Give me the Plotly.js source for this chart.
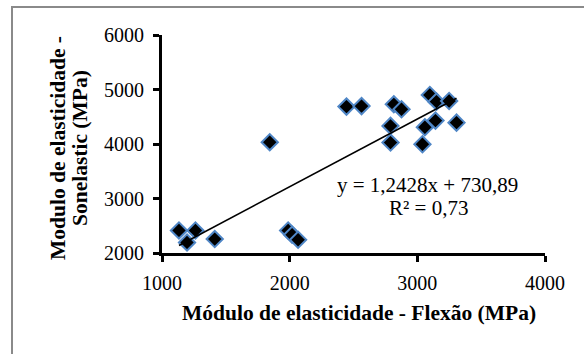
<!DOCTYPE html>
<html>
<head>
<meta charset="utf-8">
<script src="https://cdn.plot.ly/plotly-3.0.1.min.js"></script>
<style>
html,body{margin:0;padding:0;background:#fff;}
#frame{position:absolute;left:11px;top:6px;width:700px;height:500px;border-left:2px solid #8a8a8a;border-top:2px solid #8a8a8a;}
#chart{position:absolute;left:0;top:0;width:584px;height:354px;}
</style>
</head>
<body>
<div id="frame"></div>
<div id="chart"></div>
<script>
// Data
var flexao = [1133, 1196, 1262, 1413, 1844, 1988, 2019, 2066, 2445, 2563, 2790, 2790, 2816, 2876, 3040, 3059, 3098, 3142, 3150, 3249, 3307];
var sonelastic = [2414, 2194, 2414, 2256, 4033, 2414, 2335, 2243, 4686, 4695, 4332, 4026, 4728, 4637, 3996, 4307, 4899, 4429, 4777, 4789, 4392];
var slope = 1.2428;
var intercept = 730.89;
var eqText = "y = 1,2428x + 730,89";
var r2Text = "R² = 0,73";
var xTitle = "Módulo de elasticidade - Flexão (MPa)";
var yTitleLines = ["Modulo de elasticidade -", "Sonelastic (MPa)"];
var xTicks = [1000, 2000, 3000, 4000];
var yTicks = [2000, 3000, 4000, 5000, 6000];

var xmin = Math.min.apply(null, flexao);
var xmax = Math.max.apply(null, flexao);
var trendX = [xmin, xmax];
var trendY = trendX.map(function(v){ return slope * v + intercept; });

var font = "Liberation Serif";
var L = 162, R = 39, T = 35, B = 101, W = 584, H = 354;
var pw = W - L - R, ph = H - T - B;
function px(x){ return (x - L) / pw; }
function py(y){ return (H - B - y) / ph; }

var traces = [
  {
    x: flexao, y: sonelastic, type: "scatter", mode: "markers",
    marker: {symbol: "diamond", size: 12.5, color: "#000000", line: {color: "#4f86c6", width: 2}},
    hoverinfo: "x+y", showlegend: false
  },
  {
    x: trendX, y: trendY, type: "scatter", mode: "lines",
    line: {color: "#000000", width: 1.6}, hoverinfo: "skip", showlegend: false
  }
];

var layout = {
  width: W, height: H,
  margin: {l: L, r: R, t: T, b: B},
  paper_bgcolor: "rgba(0,0,0,0)",
  plot_bgcolor: "rgba(0,0,0,0)",
  font: {family: font, color: "#000", size: 20},
  xaxis: {
    range: [1000, 4000], tickvals: xTicks, ticktext: xTicks.map(String),
    showgrid: false, zeroline: false, showline: true, linecolor: "#000", linewidth: 3,
    ticks: "outside", ticklen: 6, tickwidth: 3, tickcolor: "#000", ticklabelstandoff: 4,
    tickfont: {family: font, size: 20, color: "#000"}
  },
  yaxis: {
    range: [2000, 6000], tickvals: yTicks, ticktext: yTicks.map(String),
    showgrid: false, zeroline: false, showline: true, linecolor: "#000", linewidth: 3,
    ticks: "outside", ticklen: 6, tickwidth: 3, tickcolor: "#000", ticklabelstandoff: 5,
    tickfont: {family: font, size: 20, color: "#000"}
  },
  annotations: [
    {xref: "paper", yref: "paper", x: px(427), y: py(185), text: eqText, showarrow: false,
     font: {family: font, size: 21, color: "#000"}, xanchor: "center", yanchor: "middle"},
    {xref: "paper", yref: "paper", x: px(428), y: py(208), text: r2Text, showarrow: false,
     font: {family: font, size: 21, color: "#000"}, xanchor: "center", yanchor: "middle"},
    {xref: "paper", yref: "paper", x: px(359), y: py(313), text: "<b>" + xTitle + "</b>", showarrow: false,
     font: {family: font, size: 21.5, color: "#000"}, xanchor: "center", yanchor: "middle"},
    {xref: "paper", yref: "paper", x: px(58), y: py(148), text: "<b>" + yTitleLines[0] + "</b>", showarrow: false,
     textangle: -90, font: {family: font, size: 21.5, color: "#000"}, xanchor: "center", yanchor: "middle"},
    {xref: "paper", yref: "paper", x: px(80), y: py(148), text: "<b>" + yTitleLines[1] + "</b>", showarrow: false,
     textangle: -90, font: {family: font, size: 21.5, color: "#000"}, xanchor: "center", yanchor: "middle"}
  ]
};

Plotly.newPlot("chart", traces, layout, {displayModeBar: false, staticPlot: true});
</script>
</body>
</html>
